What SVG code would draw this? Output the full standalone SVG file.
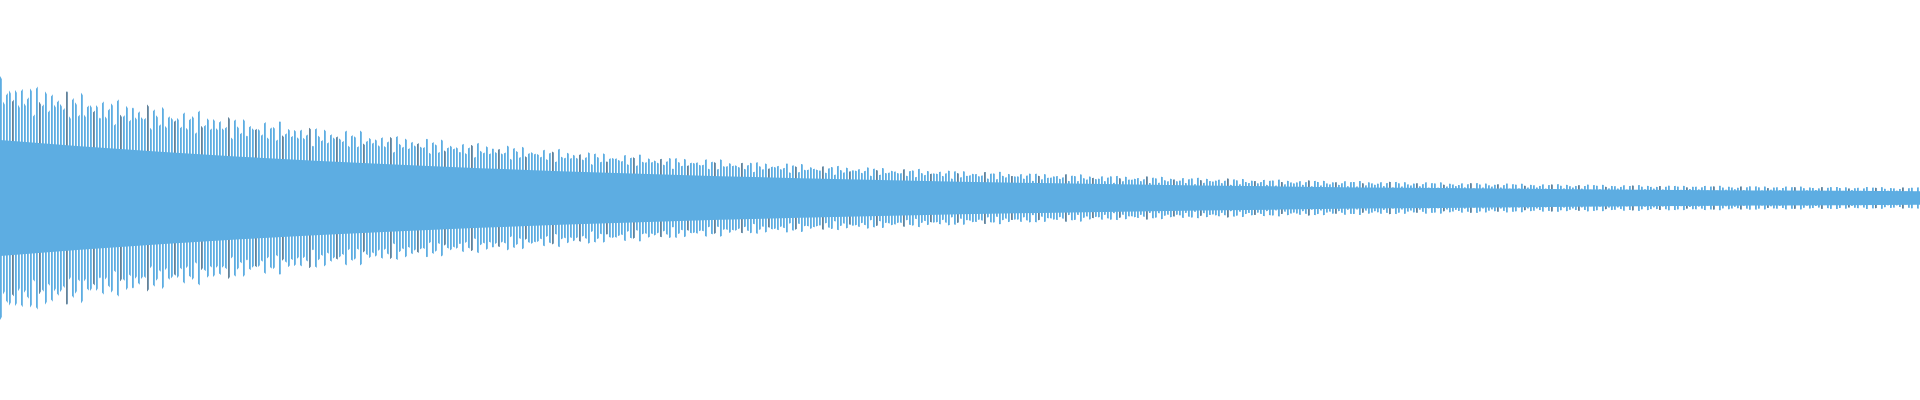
<svg xmlns="http://www.w3.org/2000/svg" width="1920" height="400" viewBox="0 0 1920 400">
<defs>
<style>.w{fill:#5DADE2}.bg{fill:#fff}</style>
<pattern id="s1" patternUnits="userSpaceOnUse" width="9" height="400"><rect x="0" y="0" width="1.8" height="400" fill="#5DADE2"/></pattern>
<pattern id="s2" patternUnits="userSpaceOnUse" width="9" height="400"><rect x="3" y="0" width="1.8" height="400" fill="#5DADE2"/></pattern>
<pattern id="s3" patternUnits="userSpaceOnUse" width="9" height="400"><rect x="6" y="0" width="1.8" height="400" fill="#5DADE2"/></pattern>
<pattern id="gst" patternUnits="userSpaceOnUse" width="27" height="400"><rect x="12" y="0" width="1.6" height="400" fill="#6b7680"/></pattern>
<path id="topSpk" d="M-40 198 L-40 70 L-20 104 L0 76 L20 108 L40 83.9 L60 113.5 L80 91.3 L100 118.8 L120 98.2 L140 123.6 L160 104.6 L180 128.2 L200 110.6 L220 132.4 L240 116.1 L260 136.4 L280 121.3 L300 140.1 L320 126.1 L340 143.5 L360 130.6 L380 146.8 L400 134.8 L420 149.8 L440 138.7 L460 152.6 L480 142.2 L500 155.2 L520 145.6 L540 157.6 L560 148.8 L580 160 L600 151.7 L620 162.1 L640 154.4 L660 164.1 L680 157 L700 166 L720 159.3 L740 167.7 L760 161.4 L780 169.3 L800 163.5 L820 170.8 L840 165.4 L860 172.3 L880 167.2 L900 173.6 L920 168.8 L940 174.8 L960 170.3 L980 176 L1000 171.8 L1020 177.1 L1040 173.1 L1060 178.1 L1080 174.3 L1100 179 L1120 175.5 L1140 179.9 L1160 176.5 L1180 180.7 L1200 177.5 L1220 181.5 L1240 178.5 L1260 182.2 L1280 179.4 L1300 182.9 L1320 180.2 L1340 183.5 L1360 180.9 L1380 184.1 L1400 181.6 L1420 184.6 L1440 182.3 L1460 185.2 L1480 182.8 L1500 185.6 L1520 183.4 L1540 186.1 L1560 184 L1580 186.5 L1600 184.4 L1620 186.9 L1640 184.9 L1660 187.3 L1680 185.4 L1700 187.6 L1720 185.7 L1740 188 L1760 186.1 L1780 188.2 L1800 186.4 L1820 188.5 L1840 186.7 L1860 188.7 L1880 187 L1900 189 L1920 187.3 L1940 189.2 L1960 187.5 L1960 198 Z"/>
<path id="topBand" d="M0 198 L0 140 L80 146.3 L160 151.8 L240 156.7 L320 161 L400 164.8 L480 168.2 L560 171.2 L640 173.8 L720 176.2 L800 178.2 L880 180.1 L960 181.7 L1040 183.1 L1120 184.3 L1200 185.5 L1280 186.4 L1360 187.4 L1440 188.1 L1520 188.8 L1600 189.4 L1680 189.9 L1760 190.4 L1840 190.8 L1920 191.2 L1920 198 Z"/>
<clipPath id="c1"><use href="#topSpk"/><use href="#topSpk" transform="matrix(1 0 0 -1 0 396)"/></clipPath>
<clipPath id="c2"><use href="#topSpk" transform="translate(-13 0)"/><use href="#topSpk" transform="matrix(1 0 0 -1 -13 396)"/></clipPath>
<clipPath id="c3"><use href="#topSpk" transform="translate(-27 3)"/><use href="#topSpk" transform="matrix(1 0 0 -1 -27 393)"/></clipPath>
</defs>
<rect class="bg" x="0" y="0" width="1920" height="400"/>
<g id="spikes">
<rect x="0" y="0" width="1920" height="400" fill="url(#s1)" clip-path="url(#c1)"/>
<rect x="0" y="0" width="1920" height="400" fill="url(#s2)" clip-path="url(#c2)"/>
<rect x="0" y="0" width="1920" height="400" fill="url(#s3)" clip-path="url(#c3)"/>
<rect x="0" y="0" width="1920" height="400" fill="url(#gst)" clip-path="url(#c2)" opacity="0.8"/>
</g>
<g id="band">
<use href="#topBand" class="w"/>
<use href="#topBand" class="w" transform="matrix(1 0 0 -1 0 396)"/>
</g>
</svg>
